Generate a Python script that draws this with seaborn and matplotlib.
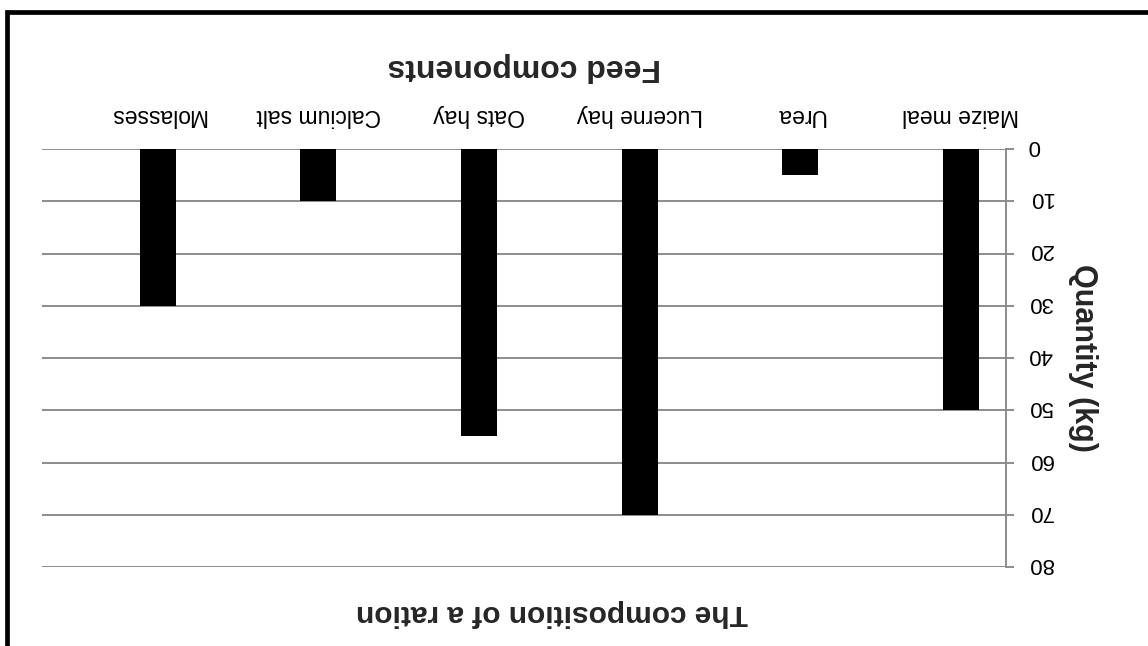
import matplotlib
matplotlib.use("Agg")
import matplotlib.pyplot as plt
import matplotlib.transforms as mtransforms
import seaborn as sns
from matplotlib.patches import Rectangle

# feed components and their quantity (kg)
components = ["Maize meal", "Urea", "Lucerne hay", "Oats hay", "Calcium salt", "Molasses"]
quantity_kg = [50, 5, 70, 55, 10, 30]
y_ticks = [0, 10, 20, 30, 40, 50, 60, 70, 80]

sns.set_style("white")
plt.rcParams["font.family"] = ["Liberation Sans", "DejaVu Sans"]

fig = plt.figure(figsize=(11.48, 6.46), dpi=100)
ax = fig.add_axes([42 / 1148, 1 - 567 / 646, (1006 - 42) / 1148, (567 - 149) / 646])

sns.barplot(x=components, y=quantity_kg, color="black", saturation=1,
            width=0.225, linewidth=0, ax=ax, zorder=3)

# the whole chart is shown upside down
ax.set_xlim(len(components) - 0.28, -0.28)
ax.set_ylim(80, 0)
ax.set_yticks(y_ticks)
ax.yaxis.tick_right()
ax.xaxis.tick_top()

grid_col = "#8c8c8c"
ax.yaxis.grid(True, color=grid_col, linewidth=1.4, zorder=0)
ax.xaxis.grid(False)
for side in ["left", "top", "bottom"]:
    ax.spines[side].set_visible(False)
ax.spines["right"].set_color(grid_col)
ax.spines["right"].set_linewidth(1.4)

ax.tick_params(axis="x", length=0, pad=16, labelsize=16.5, labelrotation=180, colors="black")
ax.tick_params(axis="y", length=6, width=1.4, color=grid_col, pad=10, labelsize=16,
               labelrotation=180, labelcolor="black", direction="out")
# nudge the upside-down tick numbers so they sit on their gridlines
nudge = mtransforms.ScaledTranslation(0, 0.035, fig.dpi_scale_trans)
for lbl in ax.get_yticklabels():
    lbl.set_va("center")
    lbl.set_transform(lbl.get_transform() + nudge)

ax.set_xlabel("Feed components", fontsize=23, fontweight="bold", rotation=180, labelpad=21)
ax.xaxis.set_label_position("top")
ax.set_ylabel("Quantity (kg)", fontsize=22, fontweight="bold", rotation=270, labelpad=32,
              va="center")
ax.yaxis.set_label_position("right")

fig.text(552 / 1148, 1 - 613 / 646, "The composition of a ration", fontsize=21.5,
         fontweight="bold", rotation=180, ha="center", va="center")

# chart border (only left and top edges fall inside the picture)
fig.add_artist(Rectangle((6.5 / 1148, -0.2), 1.3, 1.2 - 12 / 646,
                         transform=fig.transFigure, fill=False, edgecolor="black",
                         linewidth=3.4, clip_on=False))

fig.savefig("out.png", dpi=100)
